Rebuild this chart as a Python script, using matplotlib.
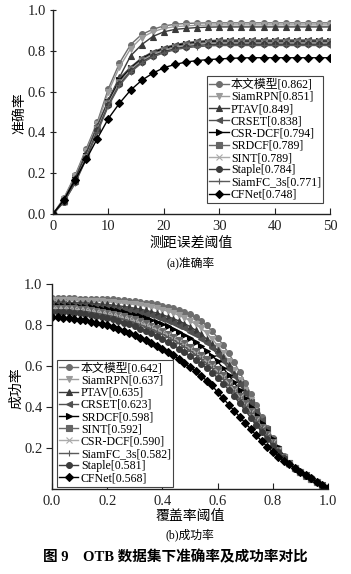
import numpy as np
import matplotlib
matplotlib.use("Agg")
import matplotlib.pyplot as plt

plt.rcParams['font.family'] = ['Liberation Serif', 'Noto Sans CJK SC', 'DejaVu Sans']
plt.rcParams['axes.unicode_minus'] = False

# ---------------- precision data (x = 0..50 step 2) ----------------
prec_x = list(range(0, 52, 2))
prec_names = ['本文模型', 'SiamRPN', 'PTAV', 'CRSET', 'CSR-DCF', 'SRDCF', 'SINT',
              'Staple', 'SiamFC_3s', 'CFNet']
prec_scores = ['0.862', '0.851', '0.849', '0.838', '0.794', '0.789', '0.789',
               '0.784', '0.771', '0.748']
P_ours = [0, .08, .19, .32, .45, .615, .74, .83, .88, .905, .922, .93, .934, .936, .937,
          .937, .937, .937, .937, .937, .937, .937, .937, .937, .937, .937]
P_siamrpn = [0, .075, .185, .31, .44, .60, .72, .81, .865, .893, .91, .918, .922, .925, .926,
             .927, .927, .927, .927, .927, .927, .927, .927, .927, .927, .927]
P_ptav = [0, .07, .175, .30, .43, .56, .67, .775, .83, .87, .893, .905, .91, .914, .916,
          .917, .917, .917, .917, .917, .917, .917, .917, .917, .917, .917]
P_crset = [0, .07, .17, .29, .43, .555, .665, .72, .765, .795, .815, .83, .84, .846, .85,
           .852, .853, .853, .853, .853, .853, .853, .853, .853, .853, .853]
P_csrdcf = [0, .065, .165, .285, .42, .55, .655, .715, .76, .79, .81, .825, .835, .841, .845,
            .847, .847, .847, .847, .847, .847, .847, .847, .847, .847, .847]
P_srdcf = [0, .065, .16, .28, .42, .545, .645, .71, .755, .785, .805, .82, .83, .836, .84,
           .842, .842, .842, .842, .842, .842, .842, .842, .842, .842, .842]
P_sint = [0, .06, .16, .28, .415, .54, .64, .705, .75, .78, .80, .815, .825, .831, .835,
          .837, .837, .837, .837, .837, .837, .837, .837, .837, .837, .837]
P_staple = [0, .06, .155, .275, .41, .535, .635, .70, .745, .775, .795, .81, .82, .826, .83,
            .832, .832, .832, .832, .832, .832, .832, .832, .832, .832, .832]
P_siamfc = [0, .06, .15, .27, .40, .53, .63, .695, .74, .77, .79, .805, .815, .82, .824,
            .826, .826, .826, .826, .826, .826, .826, .826, .826, .826, .826]
P_cfnet = [0, .07, .167, .268, .37, .468, .543, .607, .655, .69, .717, .733, .745, .752, .757,
           .76, .763, .765, .766, .766, .766, .766, .766, .766, .766, .766]
prec_series = [P_ours, P_siamrpn, P_ptav, P_crset, P_csrdcf, P_srdcf, P_sint,
               P_staple, P_siamfc, P_cfnet]

# ---------------- success data (x = 0..1 step 0.02) ----------------
succ_x = [i / 50 for i in range(51)]
succ_names = ['本文模型', 'SiamRPN', 'PTAV', 'CRSET', 'SRDCF', 'SINT', 'CSR-DCF',
              'SiamFC_3s', 'Staple', 'CFNet']
succ_scores = ['0.642', '0.637', '0.635', '0.623', '0.598', '0.592', '0.590',
               '0.582', '0.581', '0.568']
S_ours = [.930, .930, .930, .930, .930, .929, .929, .928, .928, .927,
          .926, .925, .923, .921, .919, .916, .913, .909, .905, .900,
          .895, .889, .882, .874, .864, .852, .838, .820, .798, .770,
          .738, .702, .662, .618, .570, .518, .464, .408, .352, .298,
          .247, .200, .160, .128, .104, .085, .068, .052, .036, .020, .005]
S_siamrpn = [.920, .920, .920, .920, .920, .919, .918, .917, .916, .915,
             .913, .911, .909, .906, .903, .900, .896, .892, .887, .881,
             .875, .867, .858, .847, .835, .821, .804, .784, .761, .733,
             .700, .664, .624, .580, .533, .483, .432, .380, .328, .278,
             .232, .191, .156, .126, .103, .084, .067, .051, .035, .019, .005]
S_ptav = [.910, .910, .910, .909, .909, .908, .907, .906, .904, .902,
          .900, .897, .894, .890, .886, .882, .877, .871, .865, .858,
          .850, .841, .831, .820, .807, .792, .775, .755, .732, .706,
          .676, .642, .604, .563, .519, .473, .425, .377, .328, .280,
          .234, .192, .156, .126, .103, .084, .067, .051, .035, .019, .005]
S_crset = [.900, .900, .900, .899, .898, .897, .896, .894, .892, .890,
           .887, .884, .880, .876, .871, .866, .860, .854, .847, .839,
           .830, .820, .809, .797, .783, .768, .751, .732, .711, .688,
           .655, .622, .587, .550, .510, .468, .425, .381, .337, .294,
           .240, .197, .157, .125, .102, .083, .066, .050, .034, .018, .004]
S_srdcf = [.895, .895, .894, .893, .892, .890, .888, .886, .883, .880,
           .876, .872, .867, .862, .856, .850, .843, .835, .826, .816,
           .805, .793, .780, .766, .751, .735, .717, .697, .675, .651,
           .622, .590, .556, .520, .482, .442, .401, .360, .320, .281,
           .243, .203, .162, .126, .102, .083, .066, .050, .034, .018, .004]
S_sint = [.885, .885, .884, .883, .881, .879, .876, .873, .869, .865,
          .860, .855, .849, .842, .835, .827, .818, .808, .797, .785,
          .772, .758, .743, .727, .710, .692, .673, .653, .632, .610,
          .585, .555, .523, .490, .455, .418, .380, .342, .304, .266,
          .229, .192, .157, .125, .101, .082, .065, .049, .033, .017, .004]
S_csrdcf = [.880, .880, .879, .878, .876, .874, .871, .868, .864, .859,
            .854, .848, .842, .835, .827, .818, .809, .799, .788, .776,
            .763, .749, .734, .718, .701, .683, .664, .643, .621, .598,
            .573, .545, .514, .481, .447, .411, .374, .337, .300, .263,
            .227, .190, .156, .124, .101, .082, .065, .049, .033, .017, .004]
S_siamfc = [.875, .875, .874, .873, .871, .869, .866, .862, .858, .853,
            .848, .842, .835, .828, .820, .811, .801, .791, .780, .768,
            .755, .741, .726, .710, .693, .675, .655, .634, .612, .589,
            .564, .536, .506, .474, .440, .405, .369, .333, .297, .261,
            .225, .189, .155, .124, .101, .082, .065, .049, .033, .017, .004]
S_staple = [.865, .865, .864, .862, .860, .857, .854, .850, .845, .840,
            .834, .827, .820, .812, .803, .793, .782, .771, .759, .746,
            .732, .717, .701, .685, .668, .650, .631, .611, .590, .568,
            .542, .514, .484, .452, .418, .383, .348, .313, .279, .245,
            .212, .180, .150, .122, .100, .081, .064, .048, .032, .017, .004]
S_cfnet = [.838, .837, .835, .833, .830, .826, .822, .817, .811, .805,
           .798, .790, .782, .772, .762, .751, .739, .727, .713, .699,
           .684, .668, .652, .634, .615, .595, .574, .552, .529, .505,
           .472, .442, .412, .382, .352, .322, .292, .262, .233, .206,
           .180, .158, .138, .120, .102, .085, .068, .052, .036, .020, .005]
succ_series = [S_ours, S_siamrpn, S_ptav, S_crset, S_srdcf, S_sint, S_csrdcf,
               S_siamfc, S_staple, S_cfnet]

prec_styles = [('o', '#6e6e6e'), ('v', '#9c9c9c'), ('^', '#3a3a3a'), ('<', '#505050'),
               ('>', '#000000'), ('s', '#666666'), ('x', '#ababab'), ('o', '#3c3c3c'),
               ('+', '#5a5a5a'), ('D', '#000000')]
succ_styles = [('o', '#6e6e6e'), ('v', '#9c9c9c'), ('^', '#3a3a3a'), ('<', '#505050'),
               ('>', '#000000'), ('s', '#666666'), ('x', '#ababab'), ('+', '#5a5a5a'),
               ('o', '#3c3c3c'), ('D', '#000000')]

W, H = 351, 574
fig = plt.figure(figsize=(W / 100, H / 100), dpi=100)
fig.patch.set_facecolor('white')


def fx(px):
    return px / W


def fy(py):
    return 1 - py / H


def style_axes(ax, ydir):
    for s in ['top', 'right']:
        ax.spines[s].set_visible(False)
    for s in ['left', 'bottom']:
        ax.spines[s].set_linewidth(1.0)
        ax.spines[s].set_color('#222222')
    ax.tick_params(axis='x', direction='in', length=4, width=0.8, labelsize=10.5,
                   pad=4, colors='#222222')
    ax.tick_params(axis='y', direction=ydir, length=4, width=0.8, labelsize=10.5,
                   pad=3, colors='#222222')


LEG_KW = dict(fontsize=8.6, frameon=True, fancybox=False, edgecolor='#444444',
              framealpha=1, borderpad=0.2, labelspacing=0.02, handlelength=1.6,
              handletextpad=0.2, borderaxespad=0)

# ---------------- top: precision ----------------
ax1 = fig.add_axes([fx(53), fy(214), fx(330) - fx(53), fy(10) - fy(214)])
for vals, name, sc, (m, c) in zip(prec_series, prec_names, prec_scores, prec_styles):
    ms = 4.2 if m in ('o', 's') else 4.8
    if m == 'D':
        ms = 3.8
    ax1.plot(prec_x, vals, color=c, marker=m, markersize=ms, linewidth=1.0,
             markeredgewidth=0.8, label=f'{name}[{sc}]')
ax1.set_xlim(0, 50)
ax1.set_ylim(0, 1.0)
ax1.set_xticks([0, 10, 20, 30, 40, 50])
ax1.set_yticks([0, 0.2, 0.4, 0.6, 0.8, 1.0])
ax1.set_yticklabels(['0.0', '0.2', '0.4', '0.6', '0.8', '1.0'])
style_axes(ax1, 'inout')
leg1 = ax1.legend(loc='upper left', bbox_to_anchor=(0.556, 0.675), **LEG_KW)
leg1.get_frame().set_linewidth(0.8)

fig.text(fx(20), fy(113), '准确率', rotation=90, ha='center', va='center', fontsize=10)
fig.text(fx(191), fy(243), '测距误差阈值', ha='center', va='center', fontsize=10)
fig.text(fx(191), fy(263), '(a)准确率', ha='center', va='center', fontsize=8.5)

# ---------------- bottom: success ----------------
ax2 = fig.add_axes([fx(52), fy(489), fx(328) - fx(52), fy(284) - fy(489)])
for vals, name, sc, (m, c) in zip(succ_series, succ_names, succ_scores, succ_styles):
    ms = 4.2 if m in ('o', 's') else 4.6
    if m == 'D':
        ms = 3.8
    ax2.plot(succ_x, vals, color=c, marker=m, markersize=ms, linewidth=1.0,
             markeredgewidth=0.8, label=f'{name}[{sc}]')
ax2.set_xlim(0, 1.0)
ax2.set_ylim(0, 1.0)
ax2.set_xticks([0, 0.2, 0.4, 0.6, 0.8, 1.0])
ax2.set_xticklabels(['0.0', '0.2', '0.4', '0.6', '0.8', '1.0'])
ax2.set_yticks([0.2, 0.4, 0.6, 0.8, 1.0])
ax2.set_yticklabels(['0.2', '0.4', '0.6', '0.8', '1.0'])
style_axes(ax2, 'out')
leg2 = ax2.legend(loc='upper left', bbox_to_anchor=(0.018, 0.63), **LEG_KW)
leg2.get_frame().set_linewidth(0.8)

fig.text(fx(17), fy(388), '成功率', rotation=90, ha='center', va='center', fontsize=10)
fig.text(fx(190), fy(516), '覆盖率阈值', ha='center', va='center', fontsize=10)
fig.text(fx(190), fy(535), '(b)成功率', ha='center', va='center', fontsize=8.5)
fig.text(fx(175), fy(557), '图 9    OTB 数据集下准确率及成功率对比', ha='center',
         va='center', fontsize=10.5, fontweight='bold')

fig.savefig('out.png', dpi=100, facecolor='white')
